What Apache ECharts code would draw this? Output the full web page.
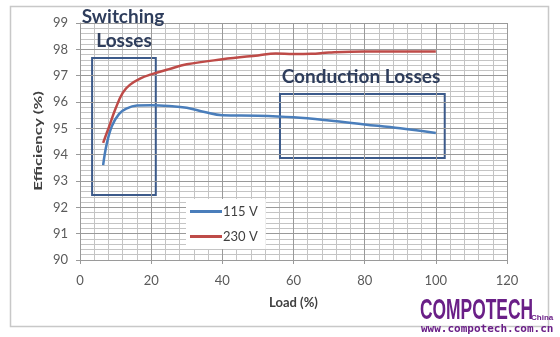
<!DOCTYPE html>
<html>
<head>
<meta charset="utf-8">
<script src="https://cdn.jsdelivr.net/npm/echarts@6/dist/echarts.min.js"></script>
<style>
  html, body { margin: 0; padding: 0; background: #ffffff; }
  #chart { width: 560px; height: 337px; }
</style>
</head>
<body>
<div id="chart"></div>
<script>
// Load (%) at each measured point
var load = [6.5, 7.5, 9, 11, 13, 16, 20, 25, 30, 35, 40, 50, 60, 70, 80, 90, 100];
// Efficiency at 115 V input
var eff115 = [93.6, 94.4, 95.1, 95.55, 95.75, 95.87, 95.88, 95.85, 95.78, 95.62, 95.5, 95.48, 95.42, 95.3, 95.15, 95.0, 94.82];
// Efficiency at 230 V input
var load230 = [6.5, 8, 10, 12, 14, 17, 20, 25, 30, 40, 50, 55, 60, 65, 70, 80, 100];
var eff230 = [94.45, 95.0, 95.75, 96.35, 96.65, 96.9, 97.05, 97.25, 97.43, 97.62, 97.77, 97.84, 97.82, 97.83, 97.88, 97.92, 97.92];

// Axis ticks
var xTicks = [0, 20, 40, 60, 80, 100, 120];
var yTicks = [90, 91, 92, 93, 94, 95, 96, 97, 98, 99];
// Minor gridline spacing
var xMinorStep = 4;
var yMinorStep = 0.2;

// Highlighted regions: [x0, y0, x1, y1] in data units
var switchingBox = [3.4, 97.67, 21.3, 92.47];
var conductionBox = [56.2, 96.3, 102.5, 93.87];

var seriesNames = ['115 V', '230 V'];

function pairs(xs, ys) {
  return xs.map(function (x, i) { return [x, ys[i]]; });
}

var boxStyle = {
  color: 'rgba(0,0,0,0)',
  borderColor: '#3c5a8a',
  borderWidth: 2
};

var chart = echarts.init(document.getElementById('chart'));
var font = 'Lato, "Open Sans", sans-serif';
var navy = '#2e3d5c';
var purple = '#6a1f87';

var xMin = xTicks[0], xMax = xTicks[xTicks.length - 1];
var yMin = yTicks[0], yMax = yTicks[yTicks.length - 1];

function mainAxis() {
  return {
    type: 'value',
    axisLine: { show: true, lineStyle: { color: '#9a9a9a' } },
    axisTick: { show: true, length: 4, lineStyle: { color: '#9a9a9a' } },
    axisLabel: { color: '#5a5a5a', fontSize: 13, fontFamily: font },
    splitLine: { show: true, lineStyle: { color: '#9a9a9a', width: 1 } },
    z: 2
  };
}

// Hidden axis that only contributes the fine gridlines
function minorAxis(min, max, step, pos) {
  return {
    type: 'value', min: min, max: max, interval: step, position: pos,
    axisLine: { show: false }, axisTick: { show: false }, axisLabel: { show: false },
    splitLine: { show: true, lineStyle: { color: '#c4c4c4', width: 1 } },
    z: 0
  };
}

var xAxis = mainAxis();
xAxis.min = xMin;
xAxis.max = xMax;
xAxis.interval = 20;
xAxis.name = 'Load (%)';
xAxis.nameLocation = 'middle';
xAxis.nameGap = 36;
xAxis.nameTextStyle = { fontWeight: 'bold', fontSize: 13, color: '#404040', fontFamily: font };
xAxis.axisLabel.margin = 14;

var yAxis = mainAxis();
yAxis.min = yMin;
yAxis.max = yMax;
yAxis.interval = 1;
yAxis.axisLabel.margin = 12;

chart.setOption({
  animation: false,
  textStyle: { fontFamily: font },
  grid: { left: 80, right: 53, top: 23, bottom: 77 },
  xAxis: [xAxis, minorAxis(xMin, xMax, xMinorStep, 'top')],
  yAxis: [yAxis, minorAxis(yMin, yMax, yMinorStep, 'right')],
  legend: {
    orient: 'vertical',
    left: 186,
    top: 199,
    itemWidth: 32,
    itemHeight: 3,
    itemGap: 12,
    padding: [6, 8, 6, 4],
    backgroundColor: '#ffffff',
    icon: 'rect',
    data: seriesNames,
    textStyle: { color: '#404040', fontSize: 13, fontFamily: font, padding: [0, 0, 0, -4] }
  },
  series: [
    {
      name: seriesNames[0],
      type: 'line',
      smooth: 0.4,
      showSymbol: false,
      symbol: 'none',
      data: pairs(load, eff115),
      lineStyle: { color: '#4a7ebb', width: 2.5 },
      itemStyle: { color: '#4a7ebb' },
      z: 3
    },
    {
      name: seriesNames[1],
      type: 'line',
      smooth: 0.4,
      showSymbol: false,
      symbol: 'none',
      data: pairs(load230, eff230),
      lineStyle: { color: '#be4b48', width: 2.5 },
      itemStyle: { color: '#be4b48' },
      z: 3
    },
    {
      name: 'regions',
      type: 'line',
      data: [],
      silent: true,
      markArea: {
        silent: true,
        itemStyle: boxStyle,
        data: [
          [{ coord: [switchingBox[0], switchingBox[1]] }, { coord: [switchingBox[2], switchingBox[3]] }],
          [{ coord: [conductionBox[0], conductionBox[1]] }, { coord: [conductionBox[2], conductionBox[3]] }]
        ]
      },
      z: 4
    }
  ],
  graphic: [
    {
      type: 'rect',
      shape: { x: 10.5, y: 6.5, width: 538, height: 320 },
      style: { fill: 'none', stroke: '#c8c8c8', lineWidth: 1.5 },
      z: -10
    },
    {
      // vertical axis title, drawn rotated and stretched along its length
      type: 'text', x: 38, y: 141, rotation: Math.PI / 2, scaleX: 1.4,
      style: { text: 'Efficiency (%)', font: 'bold 12px ' + font, fill: '#404040', align: 'center', verticalAlign: 'middle' },
      z: 20
    },
    {
      type: 'text', x: 123, y: 17,
      style: { text: 'Switching', font: 'bold 19px ' + font, fill: navy, align: 'center', verticalAlign: 'middle' }, z: 20
    },
    {
      type: 'text', x: 124, y: 41,
      style: { text: 'Losses', font: 'bold 19px ' + font, fill: navy, align: 'center', verticalAlign: 'middle' }, z: 20
    },
    {
      type: 'text', x: 361, y: 77,
      style: { text: 'Conduction Losses', font: 'bold 19px ' + font, fill: navy, align: 'center', verticalAlign: 'middle' }, z: 20
    },
    {
      type: 'text', x: 420, y: 311, scaleX: 0.58,
      style: { text: 'COMPOTECH', font: 'bold 30px "Liberation Sans", Arial, sans-serif', fill: purple, verticalAlign: 'middle' }, z: 20
    },
    {
      type: 'text', x: 531, y: 318,
      style: { text: 'China', font: 'bold 8px "Liberation Sans", sans-serif', fill: purple, verticalAlign: 'middle' }, z: 20
    },
    {
      type: 'text', x: 421, y: 329, scaleX: 1.1,
      style: { text: 'www.compotech.com.cn', font: 'bold 10px "DejaVu Sans Mono", monospace', fill: purple, verticalAlign: 'middle' }, z: 20
    }
  ]
});
</script>
</body>
</html>
